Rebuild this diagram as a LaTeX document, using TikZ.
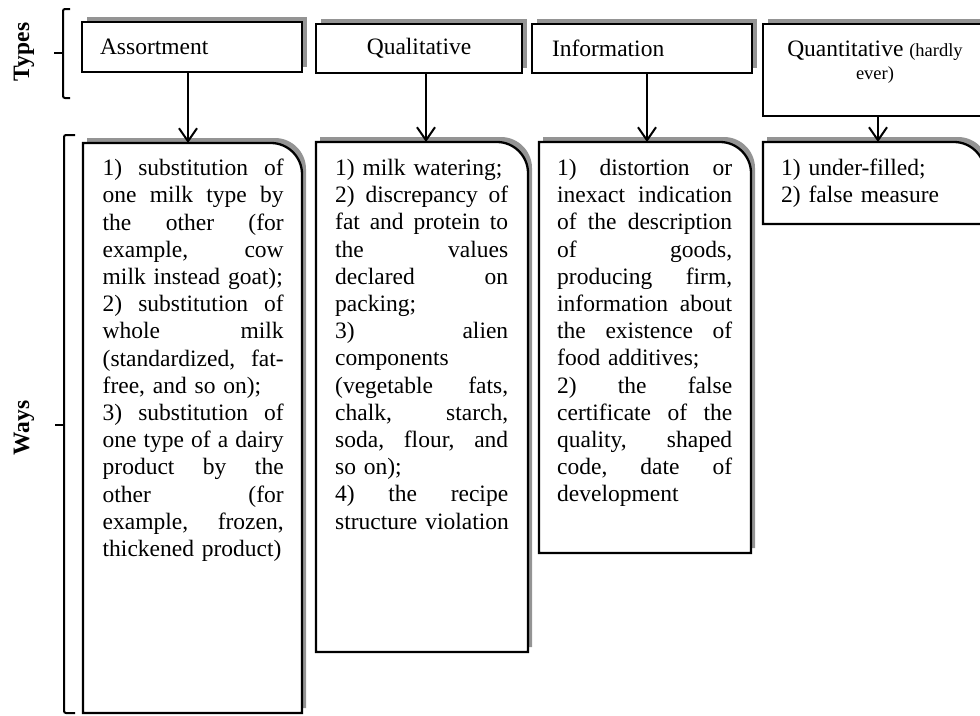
\documentclass[tikz,border=0pt]{standalone}
\usepackage{fontspec}
\setmainfont{Liberation Serif}
\usetikzlibrary{arrows.meta}
\setlength\parindent{0pt}
\hyphenpenalty=10000
\newlength\jw
\newcommand\J[1]{\makebox[\jw][l]{#1}}
\newcommand\wshape[4]{(#1,#4) -- (#1,#2) -- (#3-31,#2) .. controls (#3-14,#2) and (#3,#2+14) .. (#3,#2+31) -- (#3,#4) -- cycle}
\definecolor{shadowc}{gray}{0.58}
\begin{document}
\begin{tikzpicture}[x=1pt,y=-1pt,
  txt/.style={font=\fontsize{23.5}{27.2}\selectfont\frenchspacing},
  tbox/.style={txt,draw,line width=2.3pt,fill=white,anchor=north west,inner ysep=0pt,outer sep=0pt},
  shad/.style={fill=shadowc},
  wbox/.style={draw,line width=2.3pt,fill=white},
  ghost/.style={inner sep=0pt,outer sep=0pt,anchor=north west},
  wtxt/.style={txt,inner sep=0pt,anchor=north west,align=left,text width=200pt},
  arr/.style={line width=2pt,-{Straight Barb[length=13pt,width=18pt]}},
  brk/.style={line width=2pt,rounded corners=2pt},
  side/.style={rotate=90,font=\bfseries\fontsize{23.5}{27}\selectfont}]
\useasboundingbox (0,0) rectangle (980,715);

% side labels and brackets
\node[side] (types) at (24,52) {Types};
\node[side] (ways) at (24,428) {Ways};
\draw[brk] (70,9) -- (63,9) -- (63,98) -- (70,98);
\draw[line width=2pt] (63,53) -- (54,53);
\draw[brk] (75,135) -- (64,135) -- (64,713) -- (75,713);
\draw[line width=2pt] (64,425) -- (55,425);

% shadows of top boxes
\fill[shad] (87,17) rectangle (307,67);
\fill[shad] (321,19) rectangle (527,68);
\fill[shad] (537,19) rectangle (757,68);
\fill[shad] (768,19) rectangle (990,111);

% top boxes
\node[tbox,text width=184pt,inner xsep=18pt,align=left,minimum height=50pt] (t1) at (82,22) {Assortment};
\node[tbox,minimum width=206pt,minimum height=49pt] (t2) at (316,24) {Qualitative};
\node[tbox,text width=180pt,inner xsep=20pt,align=left,minimum height=49pt] (t3) at (532,24) {Information};
\node[tbox,minimum width=222pt,minimum height=92pt] (t4) at (763,24) {};
\node[txt,align=center,anchor=north,inner sep=0pt] (t4l) at (875,41)
  {Quantitative {\fontsize{18.5}{23}\selectfont (hardly}\\[-4pt]{\fontsize{18.5}{23}\selectfont ever)}};

% shadows of bottom boxes
\begin{scope}[transform canvas={xshift=4pt,yshift=5pt}]
\fill[shad] \wshape{83}{143}{302}{713};
\fill[shad] \wshape{316}{142}{528}{652};
\fill[shad] \wshape{539}{142}{751}{553};
\fill[shad] \wshape{763}{142}{985}{224};
\end{scope}

% bottom boxes
\draw[wbox] \wshape{83}{143}{302}{713};
\draw[wbox] \wshape{316}{142}{528}{652};
\draw[wbox] \wshape{539}{142}{751}{553};
\draw[wbox] \wshape{763}{142}{985}{224};
\node[ghost,minimum width=219pt,minimum height=570pt] (w1) at (83,143) {};
\node[ghost,minimum width=212pt,minimum height=510pt] (w2) at (316,142) {};
\node[ghost,minimum width=212pt,minimum height=411pt] (w3) at (539,142) {};
\node[ghost,minimum width=222pt,minimum height=82pt] (w4) at (763,142) {};

% texts of bottom boxes
\node[wtxt] (w1t) at (102.5,159) {\setlength\jw{181pt}%
\J{1)\hfill substitution\hfill of}\\
\J{one\hfill milk\hfill type\hfill by}\\
\J{the\hfill other\hfill (for}\\
\J{example,\hfill cow}\\
milk instead goat);\\
\J{2)\hfill substitution\hfill of}\\
\J{whole\hfill milk}\\
\J{(standardized,\hfill fat-}\\
free, and so on);\\
\J{3)\hfill substitution\hfill of}\\
\J{one\hfill type\hfill of\hfill a\hfill dairy}\\
\J{product\hfill by\hfill the}\\
\J{other\hfill (for}\\
\J{example,\hfill frozen,}\\
thickened product)};
\node[wtxt] (w2t) at (335,159) {\setlength\jw{173pt}%
1) milk watering;\\
\J{2)\hfill discrepancy\hfill of}\\
\J{fat\hfill and\hfill protein\hfill to}\\
\J{the\hfill values}\\
\J{declared\hfill on}\\
packing;\\
\J{3)\hfill alien}\\
components\\
\J{(vegetable\hfill fats,}\\
\J{chalk,\hfill starch,}\\
\J{soda,\hfill flour,\hfill and}\\
so on);\\
\J{4)\hfill the\hfill recipe}\\
structure violation};
\node[wtxt] (w3t) at (557,159) {\setlength\jw{175pt}%
\J{1)\hfill distortion\hfill or}\\
\J{inexact\hfill indication}\\
\J{of\hfill the\hfill description}\\
\J{of\hfill goods,}\\
\J{producing\hfill firm,}\\
\J{information\hfill about}\\
\J{the\hfill existence\hfill of}\\
food additives;\\
\J{2)\hfill the\hfill false}\\
\J{certificate\hfill of\hfill the}\\
\J{quality,\hfill shaped}\\
\J{code,\hfill date\hfill of}\\
development};
\node[wtxt] (w4t) at (781,159) {%
1) under-filled;\\
2) false measure};

% arrows
\draw[arr] ([xshift=-4pt]t1.south) -- ([xshift=-4.5pt]w1.north);
\draw[arr] ([xshift=7pt]t2.south) -- ([xshift=4pt]w2.north);
\draw[arr] ([xshift=5pt]t3.south) -- ([xshift=2pt]w3.north);
\draw[arr] ([xshift=4pt]t4.south) -- ([xshift=4pt]w4.north);
\end{tikzpicture}
\end{document}
